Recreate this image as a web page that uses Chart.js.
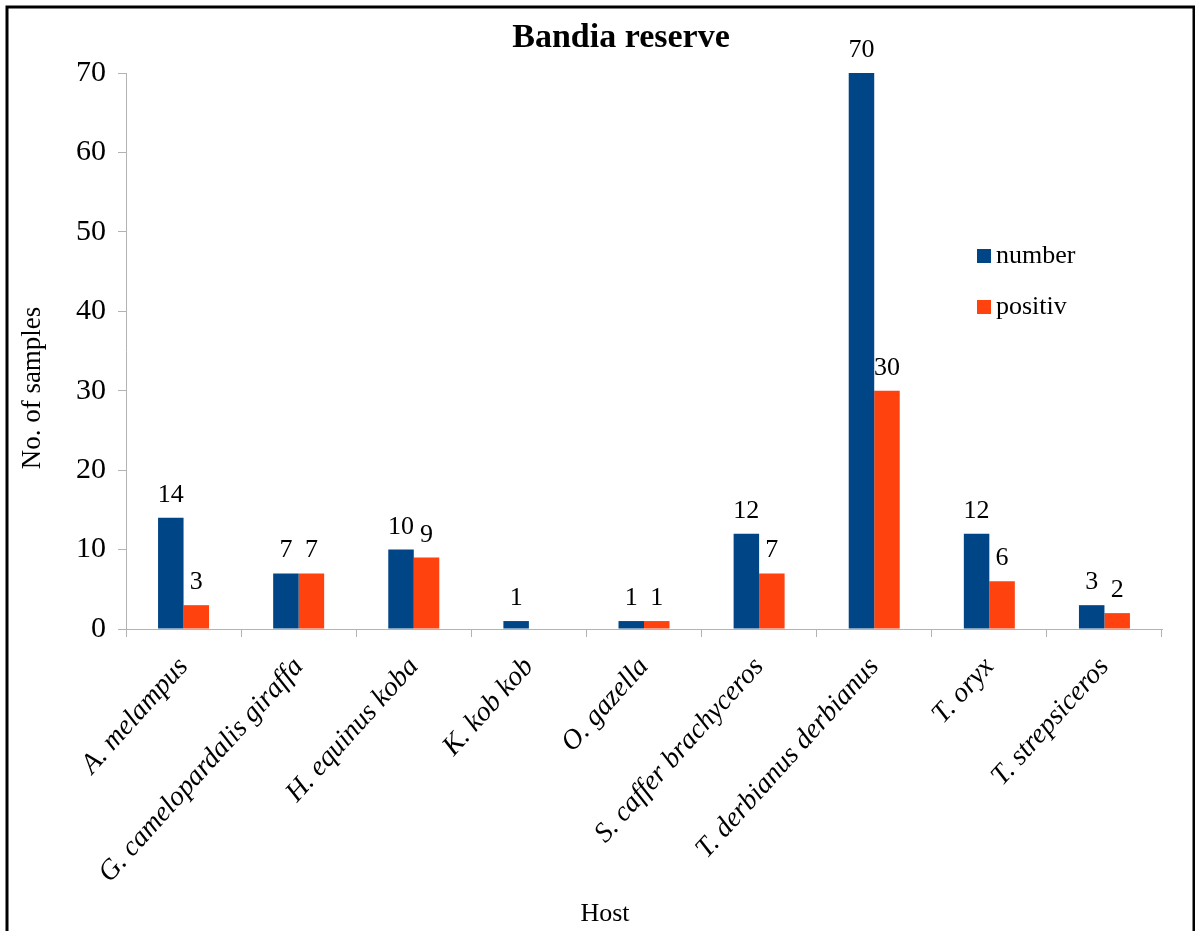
<!DOCTYPE html>
<html>
<head>
<meta charset="utf-8">
<title>Bandia reserve</title>
<script src="https://cdn.jsdelivr.net/npm/chart.js@4/dist/chart.umd.min.js"></script>
<style>
  html, body { margin: 0; padding: 0; background: #ffffff; }
  #wrap { position: relative; width: 1195px; height: 931px; }
</style>
</head>
<body>
<div id="wrap"><canvas id="chart" width="1195" height="931"></canvas></div>
<script>
// Host species sampled in the Bandia reserve
const hosts = [
  "A. melampus",
  "G. camelopardalis giraffa",
  "H. equinus koba",
  "K. kob kob",
  "O. gazella",
  "S. caffer brachyceros",
  "T. derbianus derbianus",
  "T. oryx",
  "T. strepsiceros"
];
// Samples taken per host
const numberValues = [14, 7, 10, 1, 1, 12, 70, 12, 3];
// Positive samples per host (none recorded for K. kob kob)
const positivValues = [3, 7, 9, null, 1, 7, 30, 6, 2];
// Value axis range
const yMin = 0;
const yMax = 70;
const yStep = 10;

const SERIF = "'Liberation Serif', 'Times New Roman', serif";
const AXIS_GREY = "#b3b3b3";

// Value labels above each bar
const valueLabels = {
  id: "valueLabels",
  afterDatasetsDraw(chart) {
    const ctx = chart.ctx;
    ctx.save();
    ctx.fillStyle = "#000";
    ctx.font = "26px " + SERIF;
    ctx.textAlign = "center";
    ctx.textBaseline = "alphabetic";
    chart.data.datasets.forEach((ds, i) => {
      const meta = chart.getDatasetMeta(i);
      meta.data.forEach((bar, j) => {
        const v = ds.data[j];
        if (v === null || v === undefined) return;
        ctx.fillText(String(v), bar.x, bar.y - 16);
      });
    });
    ctx.restore();
  }
};

// Title, axis titles, legend and frame
const decorations = {
  id: "decorations",
  afterDraw(chart) {
    const ctx = chart.ctx;
    ctx.save();
    ctx.fillStyle = "#000";

    // Chart title
    ctx.font = "bold 34px " + SERIF;
    ctx.textAlign = "center";
    ctx.textBaseline = "alphabetic";
    ctx.fillText("Bandia reserve", 621, 47);

    // X axis title
    ctx.font = "26px " + SERIF;
    ctx.fillText("Host", 605, 921);

    // Y axis title
    ctx.save();
    ctx.translate(33, 388);
    ctx.rotate(-Math.PI / 2);
    ctx.textBaseline = "middle";
    ctx.font = "27px " + SERIF;
    ctx.fillText("No. of samples", 0, 0);
    ctx.restore();

    // Legend inside the plot
    ctx.font = "26px " + SERIF;
    ctx.textAlign = "left";
    ctx.textBaseline = "alphabetic";
    const legendX = 977;
    const legendY = [249, 300];
    chart.data.datasets.forEach((ds, i) => {
      ctx.fillStyle = ds.backgroundColor;
      ctx.fillRect(legendX, legendY[i], 14, 14);
      ctx.fillStyle = "#000";
      ctx.fillText(ds.label, legendX + 19, legendY[i] + 14);
    });

    // Outer frame
    ctx.strokeStyle = "#000";
    ctx.lineWidth = 3;
    ctx.strokeRect(7, 7, 1187, 1000);
    ctx.restore();
  }
};

new Chart(document.getElementById("chart"), {
  type: "bar",
  data: {
    labels: hosts,
    datasets: [
      {
        label: "number",
        data: numberValues,
        backgroundColor: "#004586",
        barPercentage: 1.0,
        categoryPercentage: 0.443
      },
      {
        label: "positiv",
        data: positivValues,
        backgroundColor: "#ff420e",
        barPercentage: 1.0,
        categoryPercentage: 0.443
      }
    ]
  },
  options: {
    responsive: false,
    animation: false,
    devicePixelRatio: 1,
    layout: { padding: { top: 73, right: 33, bottom: 0, left: 0 } },
    plugins: {
      legend: { display: false },
      title: { display: false },
      tooltip: { enabled: false }
    },
    scales: {
      x: {
        afterFit(scale) { scale.height = 302; },
        grid: {
          offset: true,
          drawOnChartArea: false,
          drawTicks: true,
          tickLength: 8,
          color: AXIS_GREY,
          lineWidth: 1
        },
        border: { display: true, color: AXIS_GREY, width: 1 },
        ticks: {
          color: "#000",
          font: { family: SERIF, size: 28, style: "italic" },
          minRotation: 48,
          maxRotation: 48,
          autoSkip: false,
          padding: 14
        }
      },
      y: {
        min: yMin,
        max: yMax,
        afterFit(scale) { scale.width = 126; },
        grid: {
          drawOnChartArea: false,
          drawTicks: true,
          tickLength: 8,
          color: AXIS_GREY,
          lineWidth: 1
        },
        border: { display: true, color: AXIS_GREY, width: 1 },
        ticks: {
          stepSize: yStep,
          color: "#000",
          font: { family: SERIF, size: 30 },
          padding: 12
        }
      }
    }
  },
  plugins: [valueLabels, decorations]
});
</script>
</body>
</html>
